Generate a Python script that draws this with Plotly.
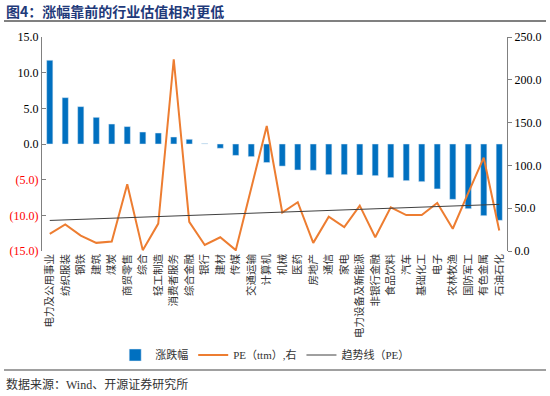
import plotly.graph_objects as go

categories = ["电力及公用事业", "纺织服装", "钢铁", "建筑", "煤炭", "商贸零售", "综合", "轻工制造",
              "消费者服务", "综合金融", "银行", "建材", "传媒", "交通运输", "计算机", "机械", "医药",
              "房地产", "通信", "家电", "电力设备及新能源", "非银行金融", "食品饮料", "汽车",
              "基础化工", "电子", "农林牧渔", "国防军工", "有色金属", "石油石化"]
change_pct = [11.74, 6.5, 5.24, 3.74, 2.8, 2.44, 1.68, 1.54, 0.98, 0.66, 0.05, -0.6, -1.6, -1.77,
              -2.6, -3.1, -3.64, -3.69, -4.3, -4.3, -4.35, -4.44, -4.72, -5.14, -5.28, -6.3,
              -7.76, -9.07, -10.05, -10.7]
pe_ttm = [20, 31, 18, 9.5, 11, 78, 1, 32, 224, 34, 7, 16, 1, 72, 146, 45, 57, 9.5, 40, 28, 53,
          16, 51, 42, 42, 56, 26, 68, 109, 24]
trend_ends = [35.7, 54.5]
left_ticks = [15, 10, 5, 0, -5, -10, -15]
right_ticks = [0, 50, 100, 150, 200, 250]

def left_label(v):
    if v < 0:
        return '<span style="color:#FF0000">(%.1f)</span>' % abs(v)
    return "%.1f" % v

serif = "Times New Roman, Liberation Serif, Noto Sans CJK SC, serif"
cjk = "Noto Sans CJK SC, sans-serif"

fig = go.Figure()
fig.add_trace(go.Bar(x=categories, y=change_pct, name="涨跌幅", marker_color="#0070C0",
                     width=0.4, yaxis="y"))
fig.add_trace(go.Scatter(x=categories, y=pe_ttm, name="PE（ttm）,右", mode="lines",
                         line=dict(color="#ED7D31", width=2), yaxis="y2"))
fig.add_trace(go.Scatter(x=[categories[0], categories[-1]], y=trend_ends, name="趋势线（PE）",
                         mode="lines", line=dict(color="#404040", width=1), yaxis="y2"))

n = len(categories)
fig.update_layout(
    width=550, height=396,
    margin=dict(l=42, r=43, t=37, b=145),
    paper_bgcolor="white", plot_bgcolor="white",
    showlegend=True,
    xaxis=dict(type="category", range=[-0.5, n - 0.5], showline=False, ticks="",
               tickangle=-90, tickfont=dict(family=cjk, size=10.5, color="#333333"),
               showgrid=False, zeroline=False, automargin=False),
    xaxis2=dict(overlaying="x", side="top", anchor="free", position=0.5,
                range=[-0.5, n - 0.5], tickmode="array",
                tickvals=[i + 0.5 for i in range(n)], ticks="outside", ticklen=3,
                tickcolor="#808080", showticklabels=False, showline=True,
                linecolor="#808080", linewidth=1.3, showgrid=False, zeroline=False),
    yaxis=dict(range=[-15, 15], tickmode="array", tickvals=left_ticks,
               ticktext=[left_label(v) for v in left_ticks], ticks="inside", ticklen=4,
               tickcolor="#808080", showline=True, linecolor="#808080", linewidth=1.3,
               showgrid=False, zeroline=False, automargin=False,
               tickfont=dict(family=serif, size=12, color="#000000")),
    yaxis2=dict(range=[0, 250], overlaying="y", side="right", tickmode="array",
                tickvals=right_ticks, ticktext=["%.1f" % v for v in right_ticks],
                ticks="outside", ticklen=4, tickcolor="#808080", showline=True,
                linecolor="#808080", linewidth=1.3, showgrid=False, zeroline=False,
                automargin=False,
                tickfont=dict(family=serif, size=12, color="#000000")),
    legend=dict(orientation="h", x=0.48, xanchor="center", y=-0.486, yanchor="middle",
                font=dict(family=serif, size=11, color="#333333"), itemwidth=30,
                tracegroupgap=0, bgcolor="rgba(0,0,0,0)"),
    shapes=[
        dict(type="line", xref="paper", yref="paper", x0=-38 / 465, x1=(546 - 42) / 465,
             y0=(251 - 21) / 214, y1=(251 - 21) / 214,
             line=dict(color="#808080", width=2)),
        dict(type="line", xref="paper", yref="paper", x0=-38 / 465, x1=(546 - 42) / 465,
             y0=(251 - 370) / 214, y1=(251 - 370) / 214,
             line=dict(color="#808080", width=1.5)),
    ],
    annotations=[
        dict(text="<b>图4：涨幅靠前的行业估值相对更低</b>", xref="paper", yref="paper",
             x=-38 / 465, y=(251 - 11) / 214, xanchor="left", yanchor="middle",
             showarrow=False, font=dict(family=cjk, size=14, color="#1F3A7A")),
        dict(text="数据来源：Wind、开源证券研究所", xref="paper", yref="paper",
             x=-38 / 465, y=(251 - 384) / 214, xanchor="left", yanchor="middle",
             showarrow=False, font=dict(family="Liberation Serif, Noto Sans CJK SC", size=12,
                                        color="#333333")),
    ],
)
fig.write_html("out.html", config={"displayModeBar": False},
               post_script="document.body.style.margin='0px';")
